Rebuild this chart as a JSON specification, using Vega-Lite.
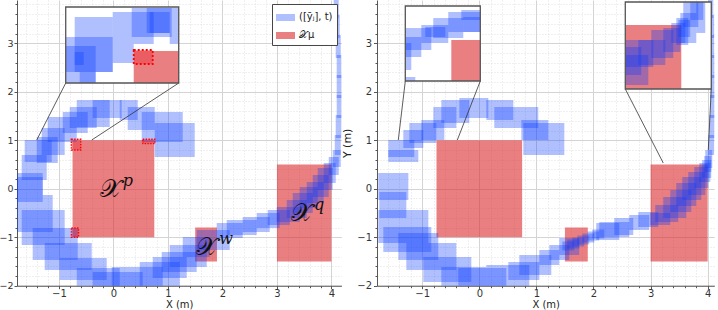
{
  "$schema": "https://vega.github.io/schema/vega-lite/v6.json",
  "padding": {"left": -2, "top": 0, "right": 0, "bottom": 0},
  "spacing": -1,
  "config": {
    "view": {"stroke": null},
    "font": "DejaVu Sans",
    "axis": {"labelFontSize": 10, "labelColor": "#333", "titleFontSize": 11, "titleFontWeight": "normal", "titleColor": "#222", "domainColor": "#555", "tickColor": "#555", "labelFont": "DejaVu Sans", "titleFont": "DejaVu Sans"}
  },
  "datasets": {
    "regions": [
      {"x": -0.75, "x2": 0.75, "y": -1, "y2": 1, "kind": "mu"},
      {"x": 1.5, "x2": 1.9, "y": -1.5, "y2": -0.8, "kind": "mu"},
      {"x": 3, "x2": 4, "y": -1.5, "y2": 0.5, "kind": "mu"}
    ],
    "leftBoxes": [
      {"x": 0.758, "x2": 1.492, "y": 0.653, "y2": 1.355, "kind": "traj"},
      {"x": 0.519, "x2": 1.272, "y": 0.963, "y2": 1.581, "kind": "traj"},
      {"x": 0.262, "x2": 0.758, "y": 1.21, "y2": 1.685, "kind": "traj"},
      {"x": 0.116, "x2": 0.446, "y": 1.416, "y2": 1.829, "kind": "traj"},
      {"x": -0.38, "x2": 0.152, "y": 1.458, "y2": 1.829, "kind": "traj"},
      {"x": -0.673, "x2": -0.068, "y": 1.272, "y2": 1.829, "kind": "traj"},
      {"x": -0.802, "x2": -0.306, "y": 1.252, "y2": 1.685, "kind": "traj"},
      {"x": -0.93, "x2": -0.472, "y": 1.148, "y2": 1.581, "kind": "traj"},
      {"x": -1.206, "x2": -0.673, "y": 0.963, "y2": 1.478, "kind": "traj"},
      {"x": -1.316, "x2": -0.894, "y": 0.695, "y2": 1.252, "kind": "traj"},
      {"x": -1.407, "x2": -1.022, "y": 0.53, "y2": 1.066, "kind": "traj"},
      {"x": -1.628, "x2": -1.132, "y": 0.551, "y2": 1.004, "kind": "traj"},
      {"x": -1.683, "x2": -1.224, "y": 0.179, "y2": 0.695, "kind": "traj"},
      {"x": -1.774, "x2": -1.297, "y": -0.13, "y2": 0.324, "kind": "traj"},
      {"x": -1.774, "x2": -1.297, "y": -0.274, "y2": 0.241, "kind": "traj"},
      {"x": -1.774, "x2": -1.114, "y": -0.893, "y2": -0.13, "kind": "traj"},
      {"x": -1.683, "x2": -0.894, "y": -1.161, "y2": -0.439, "kind": "traj"},
      {"x": -1.481, "x2": -0.655, "y": -1.47, "y2": -0.81, "kind": "traj"},
      {"x": -1.261, "x2": -0.398, "y": -1.676, "y2": -1.12, "kind": "traj"},
      {"x": -0.985, "x2": -0.123, "y": -1.883, "y2": -1.429, "kind": "traj"},
      {"x": -0.673, "x2": 0.116, "y": -2.027, "y2": -1.635, "kind": "traj"},
      {"x": -0.38, "x2": 0.538, "y": -2.027, "y2": -1.718, "kind": "traj"},
      {"x": -0.031, "x2": 0.905, "y": -2.027, "y2": -1.614, "kind": "traj"},
      {"x": 0.483, "x2": 1.217, "y": -2.027, "y2": -1.511, "kind": "traj"},
      {"x": 0.721, "x2": 1.345, "y": -1.841, "y2": -1.408, "kind": "traj"},
      {"x": 0.886, "x2": 1.528, "y": -1.718, "y2": -1.305, "kind": "traj"},
      {"x": 1.033, "x2": 1.712, "y": -1.614, "y2": -1.161, "kind": "traj"},
      {"x": 1.272, "x2": 1.767, "y": -1.408, "y2": -0.996, "kind": "traj"},
      {"x": 1.528, "x2": 2.134, "y": -1.264, "y2": -0.852, "kind": "traj"},
      {"x": 1.895, "x2": 2.372, "y": -1.016, "y2": -0.707, "kind": "traj"},
      {"x": 2.079, "x2": 2.629, "y": -0.955, "y2": -0.645, "kind": "traj"},
      {"x": 2.372, "x2": 2.868, "y": -0.893, "y2": -0.584, "kind": "traj"},
      {"x": 2.629, "x2": 3.051, "y": -0.81, "y2": -0.501, "kind": "traj"},
      {"x": 2.831, "x2": 3.235, "y": -0.749, "y2": -0.439, "kind": "traj"},
      {"x": 2.996, "x2": 3.418, "y": -0.687, "y2": -0.377, "kind": "traj"},
      {"x": 3.18, "x2": 3.547, "y": -0.604, "y2": -0.233, "kind": "traj"},
      {"x": 3.29, "x2": 3.657, "y": -0.501, "y2": -0.089, "kind": "traj"},
      {"x": 3.418, "x2": 3.749, "y": -0.398, "y2": 0.035, "kind": "traj"},
      {"x": 3.547, "x2": 3.859, "y": -0.295, "y2": 0.138, "kind": "traj"},
      {"x": 3.657, "x2": 3.95, "y": -0.171, "y2": 0.282, "kind": "traj"},
      {"x": 3.749, "x2": 4.024, "y": -0.027, "y2": 0.427, "kind": "traj"},
      {"x": 3.859, "x2": 4.079, "y": 0.118, "y2": 0.53, "kind": "traj"},
      {"x": 3.95, "x2": 4.134, "y": 0.282, "y2": 0.653, "kind": "traj"},
      {"x": 4.024, "x2": 4.171, "y": 0.447, "y2": 0.798, "kind": "traj"},
      {"x": 4.061, "x2": 4.171, "y": 0.695, "y2": 1.107, "kind": "traj"},
      {"x": 4.079, "x2": 4.189, "y": 1.045, "y2": 1.52, "kind": "traj"},
      {"x": 4.097, "x2": 4.207, "y": 1.458, "y2": 1.932, "kind": "traj"},
      {"x": 4.097, "x2": 4.207, "y": 1.87, "y2": 2.344, "kind": "traj"},
      {"x": 4.097, "x2": 4.189, "y": 2.282, "y2": 2.757, "kind": "traj"},
      {"x": 4.079, "x2": 4.171, "y": 2.695, "y2": 3.169, "kind": "traj"},
      {"x": 4.061, "x2": 4.152, "y": 3.107, "y2": 3.581, "kind": "traj"},
      {"x": 4.042, "x2": 4.134, "y": 3.52, "y2": 3.95, "kind": "traj"}
    ],
    "rightBoxes": [
      {"x": 0.771, "x2": 1.489, "y": 0.695, "y2": 1.355, "kind": "traj"},
      {"x": 0.736, "x2": 1.208, "y": 1.004, "y2": 1.416, "kind": "traj"},
      {"x": 0.263, "x2": 1.033, "y": 1.252, "y2": 1.685, "kind": "traj"},
      {"x": 0.123, "x2": 0.595, "y": 1.416, "y2": 1.829, "kind": "traj"},
      {"x": -0.35, "x2": 0.158, "y": 1.458, "y2": 1.87, "kind": "traj"},
      {"x": -0.665, "x2": -0.175, "y": 1.355, "y2": 1.829, "kind": "traj"},
      {"x": -0.806, "x2": -0.403, "y": 1.252, "y2": 1.685, "kind": "traj"},
      {"x": -1.016, "x2": -0.613, "y": 1.004, "y2": 1.416, "kind": "traj"},
      {"x": -1.226, "x2": -0.753, "y": 0.942, "y2": 1.355, "kind": "traj"},
      {"x": -1.331, "x2": -0.981, "y": 0.839, "y2": 1.21, "kind": "traj"},
      {"x": -1.594, "x2": -1.138, "y": 0.653, "y2": 1.004, "kind": "traj"},
      {"x": -1.594, "x2": -1.068, "y": 0.551, "y2": 0.798, "kind": "traj"},
      {"x": -1.769, "x2": -1.243, "y": -0.233, "y2": 0.324, "kind": "traj"},
      {"x": -1.751, "x2": -1.278, "y": -0.604, "y2": -0.068, "kind": "traj"},
      {"x": -1.769, "x2": -0.893, "y": -1.12, "y2": -0.439, "kind": "traj"},
      {"x": -1.681, "x2": -0.841, "y": -1.305, "y2": -0.79, "kind": "traj"},
      {"x": -1.419, "x2": -0.718, "y": -1.47, "y2": -0.913, "kind": "traj"},
      {"x": -1.278, "x2": -0.403, "y": -1.676, "y2": -1.12, "kind": "traj"},
      {"x": -0.981, "x2": -0.14, "y": -1.924, "y2": -1.408, "kind": "traj"},
      {"x": -0.665, "x2": 0.123, "y": -2.027, "y2": -1.614, "kind": "traj"},
      {"x": -0.368, "x2": 0.473, "y": -2.027, "y2": -1.635, "kind": "traj"},
      {"x": 0.123, "x2": 0.876, "y": -2.027, "y2": -1.573, "kind": "traj"},
      {"x": 0.508, "x2": 1.051, "y": -1.883, "y2": -1.511, "kind": "traj"},
      {"x": 0.701, "x2": 1.261, "y": -1.779, "y2": -1.367, "kind": "traj"},
      {"x": 1.051, "x2": 1.401, "y": -1.573, "y2": -1.264, "kind": "traj"},
      {"x": 1.226, "x2": 1.576, "y": -1.47, "y2": -1.161, "kind": "traj"},
      {"x": 1.401, "x2": 1.751, "y": -1.367, "y2": -1.016, "kind": "traj"},
      {"x": 1.454, "x2": 1.664, "y": -1.274, "y2": -1.088, "kind": "traj"},
      {"x": 1.541, "x2": 1.751, "y": -1.233, "y2": -1.047, "kind": "traj"},
      {"x": 1.629, "x2": 1.839, "y": -1.192, "y2": -1.006, "kind": "traj"},
      {"x": 1.716, "x2": 1.926, "y": -1.151, "y2": -0.965, "kind": "traj"},
      {"x": 1.804, "x2": 2.014, "y": -1.109, "y2": -0.923, "kind": "traj"},
      {"x": 1.891, "x2": 2.101, "y": -1.068, "y2": -0.882, "kind": "traj"},
      {"x": 1.979, "x2": 2.189, "y": -1.027, "y2": -0.841, "kind": "traj"},
      {"x": 2.049, "x2": 2.452, "y": -1.058, "y2": -0.707, "kind": "traj"},
      {"x": 2.102, "x2": 2.627, "y": -0.996, "y2": -0.687, "kind": "traj"},
      {"x": 2.364, "x2": 2.697, "y": -0.955, "y2": -0.604, "kind": "traj"},
      {"x": 2.627, "x2": 2.977, "y": -0.852, "y2": -0.542, "kind": "traj"},
      {"x": 2.785, "x2": 3.135, "y": -0.79, "y2": -0.48, "kind": "traj"},
      {"x": 2.995, "x2": 3.345, "y": -0.749, "y2": -0.501, "kind": "traj"},
      {"x": 3.082, "x2": 3.485, "y": -0.687, "y2": -0.336, "kind": "traj"},
      {"x": 3.222, "x2": 3.625, "y": -0.604, "y2": -0.171, "kind": "traj"},
      {"x": 3.345, "x2": 3.713, "y": -0.48, "y2": -0.027, "kind": "traj"},
      {"x": 3.45, "x2": 3.8, "y": -0.357, "y2": 0.118, "kind": "traj"},
      {"x": 3.555, "x2": 3.888, "y": -0.233, "y2": 0.241, "kind": "traj"},
      {"x": 3.66, "x2": 3.958, "y": -0.13, "y2": 0.344, "kind": "traj"},
      {"x": 3.765, "x2": 4.011, "y": 0.014, "y2": 0.447, "kind": "traj"},
      {"x": 3.853, "x2": 4.046, "y": 0.138, "y2": 0.53, "kind": "traj"},
      {"x": 3.905, "x2": 4.063, "y": 0.221, "y2": 0.592, "kind": "traj"},
      {"x": 3.94, "x2": 4.063, "y": 0.344, "y2": 0.674, "kind": "traj"},
      {"x": 3.958, "x2": 4.081, "y": 0.427, "y2": 0.798, "kind": "traj"},
      {"x": 4.011, "x2": 4.116, "y": 0.695, "y2": 1.107, "kind": "traj"},
      {"x": 4.028, "x2": 4.133, "y": 1.045, "y2": 1.52, "kind": "traj"},
      {"x": 4.046, "x2": 4.133, "y": 1.458, "y2": 1.932, "kind": "traj"},
      {"x": 4.046, "x2": 4.133, "y": 1.87, "y2": 2.344, "kind": "traj"},
      {"x": 4.046, "x2": 4.133, "y": 2.282, "y2": 2.757, "kind": "traj"},
      {"x": 4.028, "x2": 4.116, "y": 2.695, "y2": 3.169, "kind": "traj"},
      {"x": 4.011, "x2": 4.116, "y": 3.107, "y2": 3.581, "kind": "traj"},
      {"x": 4.011, "x2": 4.098, "y": 3.52, "y2": 3.95, "kind": "traj"}
    ],
    "leftDotted": [
      {"x": -0.771, "x2": -0.6, "y": 0.798, "y2": 1.019},
      {"x": 0.54, "x2": 0.76, "y": 0.93, "y2": 1.02},
      {"x": -0.77, "x2": -0.64, "y": -1.0, "y2": -0.81}
    ],
    "labels": [
      {"x": -0.05, "y": 0.0, "sym": "𝒳", "sup": "p"},
      {"x": 1.72, "y": -1.2, "sym": "𝒳", "sup": "w"},
      {"x": 3.46, "y": -0.5, "sym": "𝒳", "sup": "q"}
    ],
    "leftLinks": [
      {"x": -0.875, "y": 2.179, "x2": -1.407, "y2": 1.004},
      {"x": 1.198, "y": 2.179, "x2": -0.398, "y2": 1.004}
    ],
    "rightLinks": [
      {"x": -1.296, "y": 2.221, "x2": -1.419, "y2": 1.004},
      {"x": 0.0175, "y": 2.221, "x2": -0.385, "y2": 1.004},
      {"x": 2.557, "y": 2.056, "x2": 3.222, "y2": 0.53},
      {"x": 4.063, "y": 2.056, "x2": 4.011, "y2": 0.798}
    ],
    "leftInsetBoxes": [
      {"x": -1.3296, "x2": -0.9899, "y": 0.8, "y2": 1.35},
      {"x": -1.41, "x2": -0.9899, "y": 0.8, "y2": 1.15},
      {"x": -1.41, "x2": -1.1419, "y": 0.69, "y2": 1.06},
      {"x": -1.3296, "x2": -1.2491, "y": 0.87, "y2": 1.0},
      {"x": -0.9899, "x2": -0.6235, "y": 1.08, "y2": 1.4},
      {"x": -0.8201, "x2": -0.4626, "y": 1.15, "y2": 1.44},
      {"x": -0.686, "x2": -0.4, "y": 1.19, "y2": 1.44},
      {"x": -0.6592, "x2": -0.4805, "y": 1.19, "y2": 1.4},
      {"x": -0.4805, "x2": -0.4, "y": 1.08, "y2": 1.19},
      {"x": -0.9899, "x2": -0.8022, "y": 0.89, "y2": 1.08},
      {"x": -1.2849, "x2": -1.1419, "y": 0.69, "y2": 0.8}
    ],
    "rightInsetABoxes": [
      {"x": -0.647, "x2": -0.385, "y": 1.277, "y2": 1.415},
      {"x": -0.827, "x2": -0.385, "y": 1.111, "y2": 1.387},
      {"x": -1.034, "x2": -0.62, "y": 1.028, "y2": 1.304},
      {"x": -1.199, "x2": -0.827, "y": 0.959, "y2": 1.208},
      {"x": -1.144, "x2": -0.868, "y": 1.042, "y2": 1.18},
      {"x": -1.42, "x2": -1.061, "y": 0.863, "y2": 1.166},
      {"x": -1.42, "x2": -1.199, "y": 0.766, "y2": 1.042},
      {"x": -1.42, "x2": -1.337, "y": 0.587, "y2": 0.959},
      {"x": -1.42, "x2": -1.282, "y": 0.435, "y2": 0.49},
      {"x": -0.62, "x2": -0.385, "y": 1.111, "y2": 1.318}
    ],
    "rightInsetBBoxes": [
      {"x": 3.4, "x2": 3.567, "y": -0.024, "y2": 0.269},
      {"x": 3.4, "x2": 3.693, "y": 0.06, "y2": 0.342},
      {"x": 3.536, "x2": 3.819, "y": 0.081, "y2": 0.342},
      {"x": 3.672, "x2": 3.902, "y": 0.154, "y2": 0.447},
      {"x": 3.798, "x2": 3.976, "y": 0.217, "y2": 0.468},
      {"x": 3.881, "x2": 4.028, "y": 0.311, "y2": 0.52},
      {"x": 3.955, "x2": 4.08, "y": 0.374, "y2": 0.552},
      {"x": 3.934, "x2": 4.059, "y": 0.29, "y2": 0.573},
      {"x": 3.976, "x2": 4.143, "y": 0.311, "y2": 0.625},
      {"x": 4.007, "x2": 4.164, "y": 0.478, "y2": 0.74},
      {"x": 4.08, "x2": 4.216, "y": 0.552, "y2": 0.74},
      {"x": 4.143, "x2": 4.237, "y": 0.416, "y2": 0.74},
      {"x": 3.4, "x2": 3.641, "y": -0.129, "y2": 0.185}
    ]
  },
  "resolve": {"scale": {"color": "independent", "opacity": "independent"}},
  "hconcat": [
    {
      "width": 324.4,
      "height": 285.7,
      "layer": [
        {
          "layer": [
            {
              "data": {"name": "regions"},
              "mark": {"type": "rect", "clip": true},
              "encoding": {
                "x": {"field": "x", "type": "quantitative", "scale": {"domain": [-1.769, 4.183], "nice": false, "zero": false},
                  "axis": {"orient": "bottom", "values": [-1.6,-1.4,-1.2,-0.8,-0.6,-0.4,-0.2,0.2,0.4,0.6,0.8,1.2,1.4,1.6,1.8,2.2,2.4,2.6,2.8,3.2,3.4,3.6,3.8], "grid": true, "gridDash": [1, 2], "gridColor": "#d9d9d9", "gridWidth": 0.8, "labels": false, "domain": false, "tickSize": 2, "title": null}},
                "x2": {"field": "x2"},
                "y": {"field": "y", "type": "quantitative", "scale": {"domain": [-2, 3.891], "nice": false, "zero": false},
                  "axis": {"orient": "left", "values": [-1.8,-1.6,-1.4,-1.2,-0.8,-0.6,-0.4,-0.2,0.2,0.4,0.6,0.8,1.2,1.4,1.6,1.8,2.2,2.4,2.6,2.8,3.2,3.4,3.6,3.8], "grid": true, "gridDash": [1, 2], "gridColor": "#d9d9d9", "gridWidth": 0.8, "labels": false, "domain": false, "tickSize": 2, "title": null}},
                "y2": {"field": "y2"},
                "color": {"field": "kind", "type": "nominal", "scale": {"domain": ["traj", "mu"], "range": ["#0a3cff", "#dc2a2f"]},
                  "legend": {"title": null, "orient": "top-right", "offset": 4, "padding": 4, "strokeColor": "#444", "fillColor": "white", "symbolType": "M-1,-0.37H1V0.37H-1Z", "symbolSize": 361, "symbolStrokeWidth": 0, "labelFontSize": 10, "labelFont": "DejaVu Sans", "labelColor": "#222", "rowPadding": 3, "cornerRadius": 0, "labelExpr": "datum.value == 'traj' ? '([ȳⱼ], t)' : '𝒳μ'"}},
                "opacity": {"field": "kind", "type": "nominal", "scale": {"domain": ["traj", "mu"], "range": [0.32, 0.6]},
                  "legend": {"title": null, "orient": "top-right", "offset": 4, "padding": 4, "strokeColor": "#444", "fillColor": "white", "symbolType": "M-1,-0.37H1V0.37H-1Z", "symbolSize": 361, "symbolStrokeWidth": 0, "labelFontSize": 10, "labelFont": "DejaVu Sans", "labelColor": "#222", "rowPadding": 3, "cornerRadius": 0, "labelExpr": "datum.value == 'traj' ? '([ȳⱼ], t)' : '𝒳μ'"}}
              }
            },
            {
              "data": {"name": "leftBoxes"},
              "mark": {"type": "rect", "clip": true},
              "encoding": {
                "x": {"field": "x", "type": "quantitative", "scale": {"domain": [-1.769, 4.183], "nice": false, "zero": false},
                  "axis": {"orient": "bottom", "values": [-1, 0, 1, 2, 3, 4], "grid": true, "gridColor": "#d4d4d4", "gridWidth": 1, "tickSize": 3, "labelPadding": 0, "title": "X (m)", "titleFontSize": 10, "titlePadding": 1}},
                "x2": {"field": "x2"},
                "y": {"field": "y", "type": "quantitative", "scale": {"domain": [-2, 3.891], "nice": false, "zero": false},
                  "axis": {"orient": "left", "values": [-2, -1, 0, 1, 2, 3], "grid": true, "gridColor": "#d4d4d4", "gridWidth": 1, "tickSize": 3, "labelPadding": 1, "labelFontSize": 9.5, "title": null}},
                "y2": {"field": "y2"},
                "color": {"field": "kind", "type": "nominal", "scale": {"domain": ["traj", "mu"], "range": ["#0a3cff", "#dc2a2f"]}},
                "opacity": {"field": "kind", "type": "nominal", "scale": {"domain": ["traj", "mu"], "range": [0.32, 0.6]}}
              }
            },
            {
              "data": {"name": "leftDotted"},
              "mark": {"type": "rect", "fill": "#e8202a", "fillOpacity": 0.35, "stroke": "#ff0000", "strokeWidth": 1.4, "strokeDash": [1.4, 1.4]},
              "encoding": {
                "x": {"field": "x", "type": "quantitative", "axis": null},
                "x2": {"field": "x2"},
                "y": {"field": "y", "type": "quantitative", "axis": null},
                "y2": {"field": "y2"}
              }
            },
            {
              "data": {"name": "leftLinks"},
              "mark": {"type": "rule", "color": "#333", "strokeWidth": 0.8},
              "encoding": {
                "x": {"field": "x", "type": "quantitative", "axis": null},
                "x2": {"field": "x2"},
                "y": {"field": "y", "type": "quantitative", "axis": null},
                "y2": {"field": "y2"}
              }
            },
            {
              "data": {"name": "labels"},
              "mark": {"type": "text", "fontSize": 25, "font": "DejaVu Serif", "align": "center", "baseline": "middle", "color": "#111"},
              "encoding": {
                "x": {"field": "x", "type": "quantitative", "axis": null},
                "y": {"field": "y", "type": "quantitative", "axis": null},
                "text": {"field": "sym"}
              }
            },
            {
              "data": {"name": "labels"},
              "mark": {"type": "text", "fontSize": 16, "font": "DejaVu Serif", "fontStyle": "italic", "align": "left", "baseline": "middle", "dx": 12, "dy": -8, "color": "#111"},
              "encoding": {
                "x": {"field": "x", "type": "quantitative", "axis": null},
                "y": {"field": "y", "type": "quantitative", "axis": null},
                "text": {"field": "sup"}
              }
            }
          ],
          "resolve": {"axis": {"x": "independent", "y": "independent"}}
        },
        {
          "encoding": {
            "x": {"field": "x", "type": "quantitative", "scale": {"domain": [-1.8453, 1.0542], "nice": false, "zero": false}, "axis": null},
            "x2": {"field": "x2"},
            "y": {"field": "y", "type": "quantitative", "scale": {"domain": [-1.337, 1.52], "nice": false, "zero": false}, "axis": null},
            "y2": {"field": "y2"}
          },
          "layer": [
            {"data": {"values": [{"x": -1.41, "x2": -0.4, "y": 0.69, "y2": 1.45}]}, "mark": {"type": "rect", "fill": "white"}},
            {"data": {"values": [{"x": -0.8022, "x2": -0.4, "y": 0.69, "y2": 1.01}]}, "mark": {"type": "rect", "fill": "#dc2a2f", "opacity": 0.6}},
            {"data": {"name": "leftInsetBoxes"}, "mark": {"type": "rect", "fill": "#0a3cff", "opacity": 0.32}},
            {"data": {"values": [{"x": -0.8022, "x2": -0.6324, "y": 0.88, "y2": 1.02}]}, "mark": {"type": "rect", "fill": "#e8202a", "fillOpacity": 0.35, "stroke": "#ff0000", "strokeWidth": 1.8, "strokeDash": [2, 2]}},
            {"data": {"values": [{"x": -1.41, "x2": -0.4, "y": 0.69, "y2": 1.45}]}, "mark": {"type": "rect", "fill": null, "stroke": "#555", "strokeWidth": 1.3}}
          ]
        }
      ],
      "resolve": {"scale": {"x": "independent", "y": "independent"}}
    },
    {
      "width": 337.3,
      "height": 285.7,
      "layer": [
        {
          "layer": [
            {
              "data": {"name": "regions"},
              "mark": {"type": "rect", "clip": true},
              "encoding": {
                "x": {"field": "x", "type": "quantitative", "scale": {"domain": [-1.792, 4.116], "nice": false, "zero": false},
                  "axis": {"orient": "bottom", "values": [-1.6,-1.4,-1.2,-0.8,-0.6,-0.4,-0.2,0.2,0.4,0.6,0.8,1.2,1.4,1.6,1.8,2.2,2.4,2.6,2.8,3.2,3.4,3.6,3.8], "grid": true, "gridDash": [1, 2], "gridColor": "#d9d9d9", "gridWidth": 0.8, "labels": false, "domain": false, "tickSize": 2, "title": null}},
                "x2": {"field": "x2"},
                "y": {"field": "y", "type": "quantitative", "scale": {"domain": [-2, 3.891], "nice": false, "zero": false},
                  "axis": {"orient": "left", "values": [-1.8,-1.6,-1.4,-1.2,-0.8,-0.6,-0.4,-0.2,0.2,0.4,0.6,0.8,1.2,1.4,1.6,1.8,2.2,2.4,2.6,2.8,3.2,3.4,3.6,3.8], "grid": true, "gridDash": [1, 2], "gridColor": "#d9d9d9", "gridWidth": 0.8, "labels": false, "domain": false, "tickSize": 2, "title": null}},
                "y2": {"field": "y2"},
                "color": {"field": "kind", "type": "nominal", "scale": {"domain": ["traj", "mu"], "range": ["#0a3cff", "#dc2a2f"]}, "legend": null},
                "opacity": {"field": "kind", "type": "nominal", "scale": {"domain": ["traj", "mu"], "range": [0.32, 0.6]}, "legend": null}
              }
            },
            {
              "data": {"name": "rightBoxes"},
              "mark": {"type": "rect", "clip": true},
              "encoding": {
                "x": {"field": "x", "type": "quantitative", "scale": {"domain": [-1.792, 4.116], "nice": false, "zero": false},
                  "axis": {"orient": "bottom", "values": [-1, 0, 1, 2, 3, 4], "grid": true, "gridColor": "#d4d4d4", "gridWidth": 1, "tickSize": 3, "labelPadding": 0, "title": "X (m)", "titleFontSize": 10, "titlePadding": 1}},
                "x2": {"field": "x2"},
                "y": {"field": "y", "type": "quantitative", "scale": {"domain": [-2, 3.891], "nice": false, "zero": false},
                  "axis": {"orient": "left", "values": [-2, -1, 0, 1, 2, 3], "grid": true, "gridColor": "#d4d4d4", "gridWidth": 1, "tickSize": 3.5, "labelPadding": 2, "title": "Y (m)", "titlePadding": 4}},
                "y2": {"field": "y2"},
                "color": {"field": "kind", "type": "nominal", "scale": {"domain": ["traj", "mu"], "range": ["#0a3cff", "#dc2a2f"]}, "legend": null},
                "opacity": {"field": "kind", "type": "nominal", "scale": {"domain": ["traj", "mu"], "range": [0.32, 0.6]}, "legend": null}
              }
            },
            {
              "data": {"name": "rightLinks"},
              "mark": {"type": "rule", "color": "#333", "strokeWidth": 0.8},
              "encoding": {
                "x": {"field": "x", "type": "quantitative", "axis": null},
                "x2": {"field": "x2"},
                "y": {"field": "y", "type": "quantitative", "axis": null},
                "y2": {"field": "y2"}
              }
            }
          ],
          "resolve": {"axis": {"x": "independent", "y": "independent"}}
        },
        {
          "encoding": {
            "x": {"field": "x", "type": "quantitative", "scale": {"domain": [-1.8105, 2.8442], "nice": false, "zero": false}, "axis": null},
            "x2": {"field": "x2"},
            "y": {"field": "y", "type": "quantitative", "scale": {"domain": [-2.3899, 1.5528], "nice": false, "zero": false}, "axis": null},
            "y2": {"field": "y2"}
          },
          "layer": [
            {"data": {"values": [{"x": -1.42, "x2": -0.385, "y": 0.435, "y2": 1.47}]}, "mark": {"type": "rect", "fill": "white"}},
            {"data": {"values": [{"x": -0.785, "x2": -0.385, "y": 0.435, "y2": 1.001}]}, "mark": {"type": "rect", "fill": "#dc2a2f", "opacity": 0.6}},
            {"data": {"name": "rightInsetABoxes"}, "mark": {"type": "rect", "fill": "#0a3cff", "opacity": 0.32}},
            {"data": {"values": [{"x": -1.42, "x2": -0.385, "y": 0.435, "y2": 1.47}]}, "mark": {"type": "rect", "fill": null, "stroke": "#555", "strokeWidth": 1.3}}
          ]
        },
        {
          "encoding": {
            "x": {"field": "x", "type": "quantitative", "scale": {"domain": [0.8015, 4.3314], "nice": false, "zero": false}, "axis": null},
            "x2": {"field": "x2"},
            "y": {"field": "y", "type": "quantitative", "scale": {"domain": [-2.2289, 0.7609], "nice": false, "zero": false}, "axis": null},
            "y2": {"field": "y2"}
          },
          "layer": [
            {"data": {"values": [{"x": 3.4, "x2": 4.3, "y": -0.1705, "y2": 0.74}]}, "mark": {"type": "rect", "fill": "white"}},
            {"data": {"values": [{"x": 3.4, "x2": 3.986, "y": -0.1705, "y2": 0.499}]}, "mark": {"type": "rect", "fill": "#dc2a2f", "opacity": 0.6}},
            {"data": {"name": "rightInsetBBoxes"}, "mark": {"type": "rect", "fill": "#0a3cff", "opacity": 0.32}},
            {"data": {"values": [{"x": 3.4, "x2": 4.3, "y": -0.1705, "y2": 0.74}]}, "mark": {"type": "rect", "fill": null, "stroke": "#555", "strokeWidth": 1.3}}
          ]
        }
      ],
      "resolve": {"scale": {"x": "independent", "y": "independent"}}
    }
  ]
}
